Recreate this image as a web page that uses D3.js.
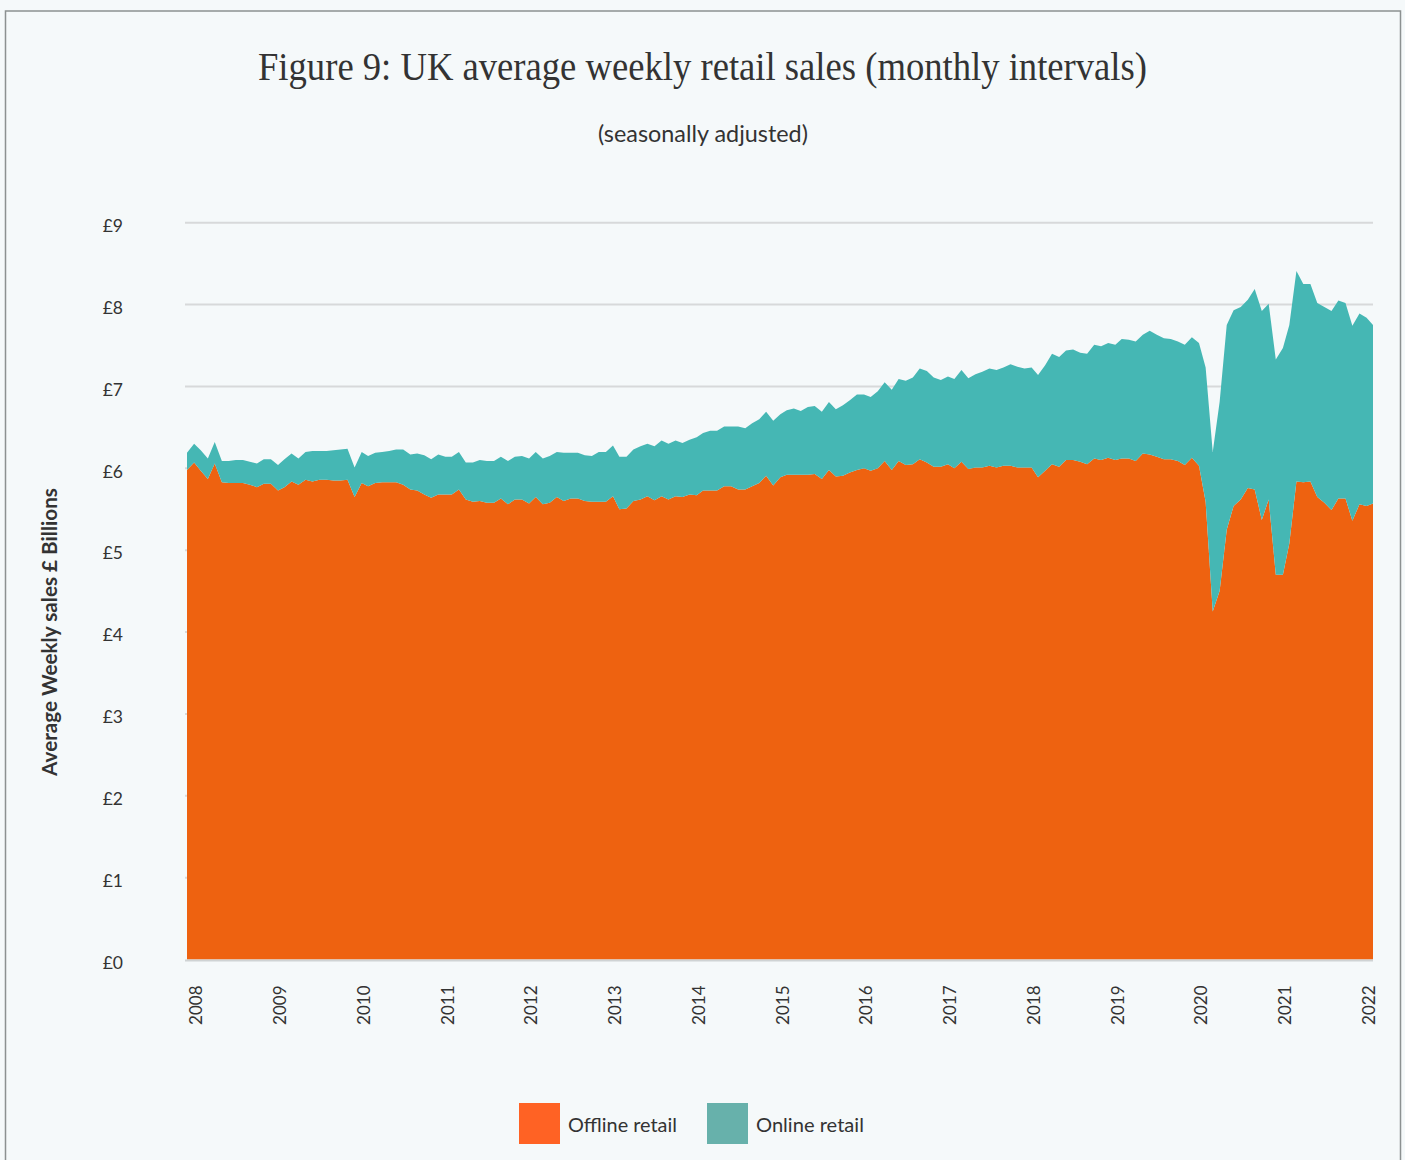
<!DOCTYPE html>
<html>
<head>
<meta charset="utf-8">
<script src="https://cdn.jsdelivr.net/npm/d3@7"></script>
<style>
  body { margin: 0; background: #f5f9fa; }
  svg { display: block; }
  text { fill: #333; }
</style>
</head>
<body>
<div id="chart"></div>
<script>
// monthly data, Jan 2008 - Mar 2022 (£ billions per week)
let startMonth = new Date(2008, 0, 1);
let endMonth = new Date(2022, 2, 1);

let offline = [
  5.98, 6.07, 5.97, 5.87, 6.06, 5.83, 5.82, 5.82, 5.82, 5.80, 5.77, 5.81,
  5.81, 5.73, 5.77, 5.84, 5.80, 5.86, 5.84, 5.86, 5.86, 5.85, 5.85, 5.86,
  5.65, 5.82, 5.78, 5.82, 5.83, 5.83, 5.83, 5.80, 5.74, 5.73, 5.68, 5.64,
  5.68, 5.68, 5.68, 5.74, 5.62, 5.59, 5.60, 5.58, 5.58, 5.63, 5.56, 5.62,
  5.62, 5.57, 5.65, 5.56, 5.58, 5.65, 5.60, 5.63, 5.63, 5.60, 5.59, 5.59,
  5.59, 5.66, 5.50, 5.51, 5.60, 5.62, 5.66, 5.61, 5.66, 5.62, 5.66, 5.65,
  5.68, 5.67, 5.73, 5.73, 5.73, 5.78, 5.78, 5.74, 5.74, 5.78, 5.82, 5.91,
  5.79, 5.89, 5.92, 5.92, 5.92, 5.92, 5.93, 5.87, 5.98, 5.90, 5.91, 5.95,
  5.98, 6.00, 5.97, 6.00, 6.09, 5.98, 6.09, 6.04, 6.05, 6.11, 6.07, 6.02,
  6.02, 6.05, 6.00, 6.08, 5.99, 6.01, 6.01, 6.03, 6.01, 6.03, 6.03, 6.01,
  6.01, 6.01, 5.89, 5.97, 6.05, 6.02, 6.10, 6.10, 6.08, 6.05, 6.12, 6.10,
  6.13, 6.10, 6.12, 6.12, 6.09, 6.18, 6.17, 6.14, 6.11, 6.11, 6.09, 6.04,
  6.13, 6.03, 5.59, 4.25, 4.50, 5.25, 5.54, 5.62, 5.76, 5.74, 5.37, 5.62,
  4.70, 4.70, 5.08, 5.84, 5.83, 5.84, 5.65, 5.58, 5.49, 5.63, 5.63, 5.36,
  5.56, 5.54, 5.57
];

let online = [
  0.21, 0.23, 0.25, 0.25, 0.26, 0.26, 0.27, 0.28, 0.28, 0.28, 0.29, 0.30,
  0.30, 0.31, 0.34, 0.34, 0.32, 0.34, 0.37, 0.35, 0.35, 0.37, 0.38, 0.38,
  0.36, 0.38, 0.37, 0.37, 0.37, 0.38, 0.40, 0.43, 0.43, 0.45, 0.48, 0.47,
  0.49, 0.46, 0.46, 0.46, 0.45, 0.48, 0.50, 0.51, 0.51, 0.51, 0.53, 0.52,
  0.53, 0.55, 0.55, 0.56, 0.57, 0.55, 0.59, 0.56, 0.56, 0.56, 0.56, 0.61,
  0.61, 0.62, 0.64, 0.63, 0.63, 0.65, 0.64, 0.66, 0.68, 0.68, 0.68, 0.66,
  0.67, 0.71, 0.70, 0.73, 0.73, 0.73, 0.73, 0.77, 0.75, 0.77, 0.78, 0.78,
  0.79, 0.77, 0.79, 0.81, 0.78, 0.83, 0.83, 0.82, 0.83, 0.82, 0.86, 0.88,
  0.92, 0.90, 0.90, 0.94, 0.96, 0.98, 1.00, 1.03, 1.06, 1.11, 1.12, 1.09,
  1.06, 1.07, 1.09, 1.12, 1.11, 1.14, 1.17, 1.19, 1.19, 1.20, 1.24, 1.23,
  1.21, 1.22, 1.25, 1.29, 1.35, 1.34, 1.34, 1.35, 1.33, 1.35, 1.39, 1.39,
  1.40, 1.41, 1.46, 1.45, 1.46, 1.45, 1.51, 1.49, 1.48, 1.47, 1.46, 1.47,
  1.47, 1.50, 1.64, 1.95, 2.31, 2.50, 2.39, 2.35, 2.30, 2.45, 2.55, 2.39,
  2.63, 2.77, 2.67, 2.57, 2.42, 2.41, 2.37, 2.39, 2.43, 2.42, 2.39, 2.38,
  2.33, 2.30, 2.18
];

let yTicks = [0, 1, 2, 3, 4, 5, 6, 7, 8, 9];
let seriesNames = ['Offline retail', 'Online retail'];
let seriesColors = ['#ee6210', '#45b7b4'];
let legendColors = ['#ff6224', '#67b1ab'];

let svgWidth = 1405;
let svgHeight = 1160;

// plot area in page pixels
let plot = { left: 187, right: 1373, top: 222.7, bottom: 959.5 };

let svg = d3.select('#chart')
  .append('svg')
  .attr('width', svgWidth)
  .attr('height', svgHeight);

// frame
svg.append('rect')
  .attr('x', 5.5)
  .attr('y', 11)
  .attr('width', 1395)
  .attr('height', 1200)
  .attr('fill', '#f5f9fa')
  .attr('stroke', '#8c9191')
  .attr('stroke-width', 1.5);

// shrink or grow a text so it spans the wanted width
function fitText(sel, width) {
  let w = sel.node().getComputedTextLength();
  let size = parseFloat(sel.attr('font-size'));
  sel.attr('font-size', size * width / w);
}

// title + subtitle
svg.append('text')
  .attr('x', 702.5)
  .attr('y', 80)
  .attr('text-anchor', 'middle')
  .attr('font-family', 'Liberation Serif, serif')
  .attr('font-size', 40)
  .attr('textLength', 889)
  .attr('lengthAdjust', 'spacingAndGlyphs')
  .attr('fill', '#333')
  .text('Figure 9: UK average weekly retail sales (monthly intervals)');

let sub = svg.append('text')
  .attr('x', 703)
  .attr('y', 142)
  .attr('text-anchor', 'middle')
  .attr('font-family', 'Lato, sans-serif')
  .attr('font-size', 21)
  .text('(seasonally adjusted)');
fitText(sub, 210);

// scales
let months = d3.timeMonth.range(startMonth, d3.timeMonth.offset(endMonth, 1));

let x = d3.scaleTime()
  .domain([startMonth, endMonth])
  .range([plot.left, plot.right]);

let y = d3.scaleLinear()
  .domain([0, 9])
  .range([plot.bottom, plot.top]);

// gridlines
svg.append('g')
  .selectAll('line')
  .data(yTicks.filter(d => d > 0))
  .enter()
  .append('line')
  .attr('x1', 185)
  .attr('x2', plot.right)
  .attr('y1', d => y(d))
  .attr('y2', d => y(d))
  .attr('stroke', '#d7d9da')
  .attr('stroke-width', 2);

// stacked areas
let table = months.map((m, i) => ({ date: m, offline: offline[i], online: online[i] }));

let stack = d3.stack().keys(['offline', 'online']);
let layers = stack(table);

let area = d3.area()
  .x(d => x(d.data.date))
  .y0(d => y(d[0]))
  .y1(d => y(d[1]));

svg.append('g')
  .selectAll('path')
  .data(layers)
  .enter()
  .append('path')
  .attr('d', area)
  .attr('fill', (d, i) => seriesColors[i]);

// y axis labels
let leftAxis = d3.axisLeft(y)
  .tickValues(yTicks)
  .tickSize(0)
  .tickPadding(62)
  .tickFormat(d => '£' + d);

let yAxis = svg.append('g')
  .attr('transform', 'translate(185, 0)')
  .call(leftAxis);

yAxis.select('.domain').remove();
yAxis.selectAll('text')
  .attr('font-family', 'Lato, sans-serif')
  .attr('font-size', 17.5)
  .attr('dy', '0.5em')
  .attr('fill', '#333');

// x axis
let bottomAxis = d3.axisBottom(x)
  .ticks(d3.timeYear.every(1))
  .tickSize(0)
  .tickFormat(d3.timeFormat('%Y'));

let xAxis = svg.append('g')
  .attr('transform', `translate(0, ${plot.bottom})`)
  .call(bottomAxis);

xAxis.select('.domain')
  .attr('d', `M185,1H${plot.right}`)
  .attr('stroke', '#cfd3d4')
  .attr('stroke-width', 2);

xAxis.selectAll('text')
  .attr('font-family', 'Lato, sans-serif')
  .attr('font-size', 17)
  .attr('fill', '#333')
  .attr('text-anchor', 'end')
  .attr('transform', 'rotate(-90)')
  .attr('x', -26)
  .attr('y', 9)
  .attr('dy', '.35em');

// y axis title
let yTitle = svg.append('text')
  .attr('transform', 'translate(57, 632) rotate(-90)')
  .attr('text-anchor', 'middle')
  .attr('font-family', 'Lato, sans-serif')
  .attr('font-weight', 'bold')
  .attr('font-size', 17)
  .attr('fill', '#222')
  .text('Average Weekly sales £ Billions');
fitText(yTitle, 288);

// legend
let legendX = [519, 707];
let legendText = [109, 108];

let legend = svg.append('g')
  .selectAll('g')
  .data(seriesNames)
  .enter()
  .append('g')
  .attr('transform', (d, i) => `translate(${legendX[i]}, 1103)`);

legend.append('rect')
  .attr('width', 41)
  .attr('height', 41)
  .attr('fill', (d, i) => legendColors[i]);

legend.append('text')
  .attr('x', 49)
  .attr('y', 29)
  .attr('font-family', 'Lato, sans-serif')
  .attr('font-size', 19)
  .attr('fill', '#333')
  .text(d => d)
  .each(function(d, i) { fitText(d3.select(this), legendText[i]); });
</script>
</body>
</html>
